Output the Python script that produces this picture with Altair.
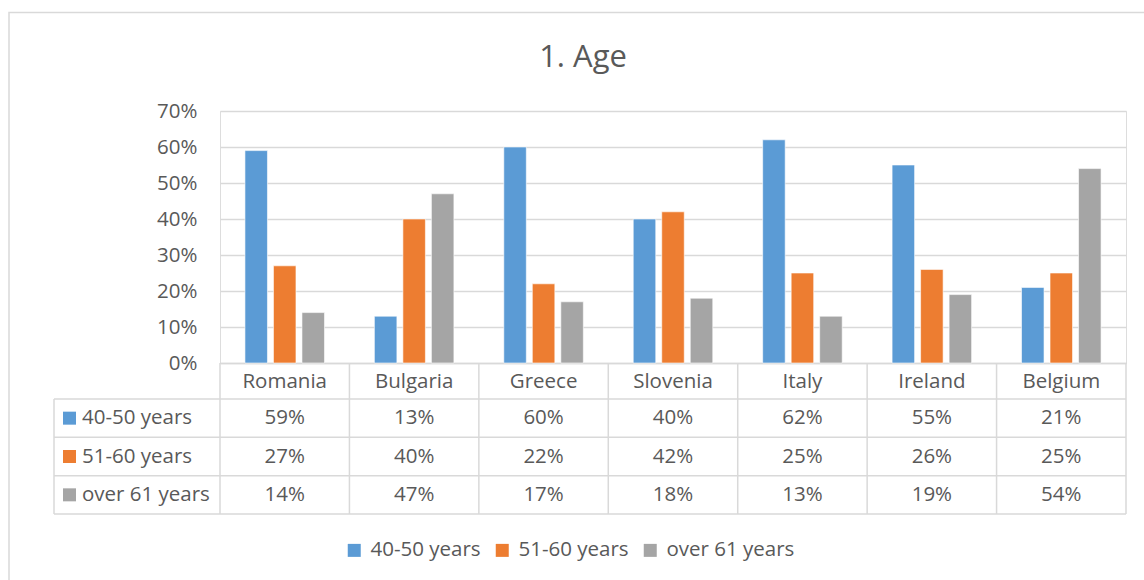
import altair as alt
import pandas as pd

FONT = "Open Sans"
TEXT = "#595959"
GRID = "#D9D9D9"

title_text = ["1. Age"]
countries = ["Romania", "Bulgaria", "Greece", "Slovenia", "Italy", "Ireland", "Belgium"]
series = ["40-50 years", "51-60 years", "over 61 years"]
age_40_50 = [59, 13, 60, 40, 62, 55, 21]
age_51_60 = [27, 40, 22, 42, 25, 26, 25]
age_over_61 = [14, 47, 17, 18, 13, 19, 54]
colors = ["#5B9BD5", "#ED7D31", "#A5A5A5"]

rows = []
for s, vals in zip(series, [age_40_50, age_51_60, age_over_61]):
    for c, v in zip(countries, vals):
        rows.append({"country": c, "series": s, "value": v / 100})
df = pd.DataFrame(rows)
series_df = pd.DataFrame({"series": series})
country_df = pd.DataFrame({"country": countries})
one_df = pd.DataFrame({"t": title_text})

W, H = 906, 252          # plot area
TABLE_BOTTOM = 403       # bottom of the data table, relative to plot top
ROW_TOP = 288            # top of the first data row
LABEL_COL = -166         # left edge of the series-name column
FS = 20.5                # body text size

x_scale = alt.Scale(domain=countries, paddingInner=0, paddingOuter=0)
color_scale = alt.Scale(domain=series, range=colors)
table_y = alt.Scale(domain=series, range=[ROW_TOP, TABLE_BOTTOM], paddingInner=0, paddingOuter=0)

x_axis = alt.Axis(title=None, labelAngle=0, ticks=False, tickSize=0, labelPadding=18,
                  labelBaseline="middle", labelFontSize=FS, labelColor=TEXT, labelFont=FONT,
                  domainColor=GRID, domainWidth=1.5, grid=False)

legend = alt.Legend(title=None, orient="none", legendX=124, legendY=429, direction="horizontal",
                    symbolType="square", symbolSize=169, symbolStrokeWidth=0,
                    labelFontSize=FS, labelColor=TEXT, labelFont=FONT,
                    columnPadding=11, labelOffset=6, padding=0)

bars = alt.Chart(df).mark_bar(stroke="white", strokeWidth=0.6).encode(
    x=alt.X("country:N", scale=x_scale, axis=x_axis),
    xOffset=alt.XOffset("series:N", scale=alt.Scale(domain=series, paddingInner=0.21, paddingOuter=0.875)),
    y=alt.Y("value:Q", scale=alt.Scale(domain=[0, 0.7], nice=False),
            axis=alt.Axis(title=None, format=".0%", values=[0, 0.1, 0.2, 0.3, 0.4, 0.5, 0.6, 0.7],
                          ticks=False, domain=False, labelPadding=23, labelFontSize=FS,
                          labelColor=TEXT, labelFont=FONT, gridColor=GRID, gridWidth=1.5)),
    color=alt.Color("series:N", scale=color_scale, legend=legend),
)

# data table under the plot
hlines = alt.Chart(series_df).mark_rule(color=GRID, strokeWidth=1.5).encode(
    y=alt.Y("series:N", scale=table_y, bandPosition=0, axis=None),
    x=alt.value(LABEL_COL), x2=alt.value(W),
)
hline_bottom = alt.Chart(series_df.tail(1)).mark_rule(color=GRID, strokeWidth=1.5).encode(
    y=alt.Y("series:N", scale=table_y, bandPosition=1, axis=None),
    x=alt.value(LABEL_COL), x2=alt.value(W),
)
row_labels = alt.Chart(series_df).mark_text(align="left", baseline="middle", fontSize=FS,
                                            color=TEXT, font=FONT).encode(
    y=alt.Y("series:N", scale=table_y, axis=None),
    x=alt.value(-138),
    text="series:N",
)
swatches = alt.Chart(series_df).mark_square(size=169, opacity=1).encode(
    y=alt.Y("series:N", scale=table_y, axis=None),
    x=alt.value(-150.5),
    color=alt.Color("series:N", scale=color_scale, legend=legend),
)
cells = alt.Chart(df).mark_text(baseline="middle", fontSize=FS, color=TEXT, font=FONT).encode(
    x=alt.X("country:N", scale=x_scale, axis=x_axis),
    y=alt.Y("series:N", scale=table_y, axis=None),
    text=alt.Text("value:Q", format=".0%"),
)
table = alt.layer(hlines, hline_bottom, row_labels, swatches, cells)

vlines = alt.Chart(country_df).mark_rule(color=GRID, strokeWidth=1.5).encode(
    x=alt.X("country:N", scale=x_scale, bandPosition=0, axis=x_axis),
    y=alt.value(H), y2=alt.value(TABLE_BOTTOM),
)
vline_last = alt.Chart(country_df.tail(1)).mark_rule(color=GRID, strokeWidth=1.5).encode(
    x=alt.X("country:N", scale=x_scale, bandPosition=1, axis=x_axis),
    y=alt.value(H), y2=alt.value(TABLE_BOTTOM),
)
vline_left = alt.Chart(one_df).mark_rule(color=GRID, strokeWidth=1.5).encode(
    x=alt.value(LABEL_COL), y=alt.value(ROW_TOP), y2=alt.value(TABLE_BOTTOM),
)

frame = alt.Chart(one_df).mark_rect(fillOpacity=0, stroke=GRID, strokeWidth=1.5).encode(
    x=alt.value(-211), y=alt.value(-98.5), x2=alt.value(W + 60), y2=alt.value(H + 260),
)
title = alt.Chart(one_df).mark_text(fontSize=31, color=TEXT, font=FONT, align="center",
                                    baseline="middle").encode(
    text="t:N", x=alt.value(363), y=alt.value(-53),
)

chart = alt.layer(frame, title, bars, table, vlines, vline_last, vline_left).resolve_scale(
    y="independent"
).properties(
    width=W, height=H,
    autosize=alt.AutoSizeParams(type="none"),
    padding={"left": 220, "top": 111, "right": 18, "bottom": 217},
).configure_view(stroke=None).configure(font=FONT)

chart.save("out.html", embed_options={"renderer": "svg", "actions": False})
